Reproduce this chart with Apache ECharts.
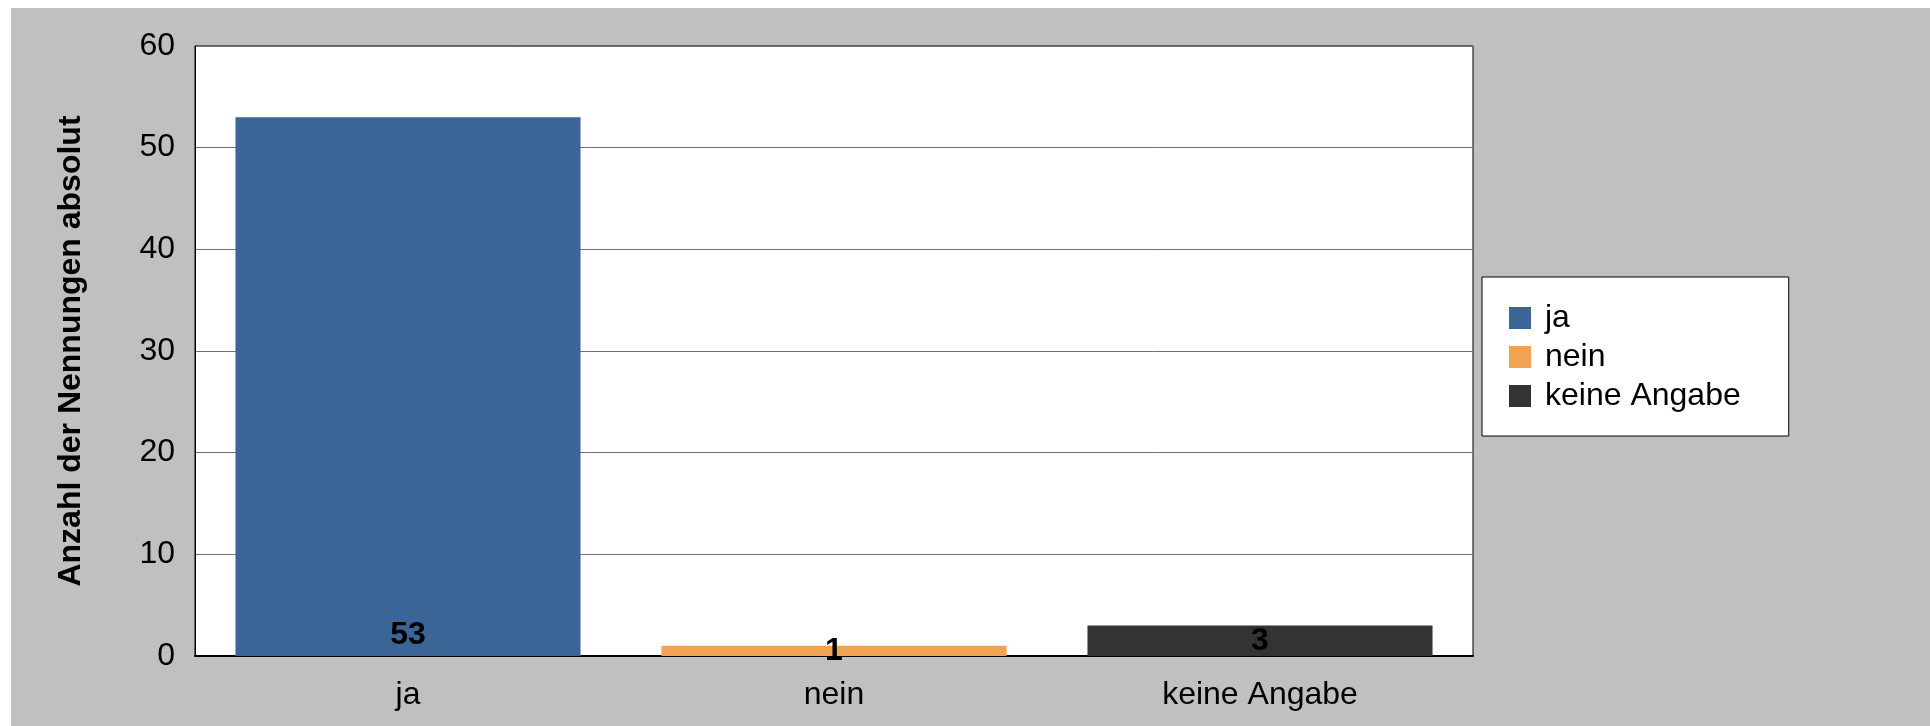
<!DOCTYPE html>
<html>
<head>
<meta charset="utf-8">
<script src="https://cdn.jsdelivr.net/npm/echarts@6/dist/echarts.min.js"></script>
<style>
  html, body { margin: 0; padding: 0; background: #fff; }
  #bg { position: absolute; left: 11px; top: 8px; width: 1919px; height: 718px; background: #c0c0c0; }
  #chart { position: absolute; left: 0; top: 0; width: 1930px; height: 726px; }
</style>
</head>
<body>
<div id="bg"></div>
<div id="chart"></div>
<script>
var categories = ['ja', 'nein', 'keine Angabe']
var counts = [53, 1, 3]
var colors = ['#3a6596', '#f0a352', '#333333']
var yTicks = [0, 10, 20, 30, 40, 50, 60]

var chart = echarts.init(document.getElementById('chart'))
var font = 'Liberation Sans, Arial, sans-serif'

// one series per category so each gets its own legend entry
var series = categories.map(function (name, i) {
  var data = categories.map(function (c, j) { return j === i ? counts[j] : '-' })
  return {
    name: name,
    type: 'bar',
    stack: 'all',
    barCategoryGap: '19%',
    itemStyle: { color: colors[i] },
    label: {
      show: true,
      position: counts[i] > 10 ? 'insideBottom' : 'inside',
      distance: 5,
      color: '#000',
      fontWeight: 'bold',
      fontSize: 32,
      fontFamily: font
    },
    data: data
  }
})

var option = {
  animation: false,
  grid: {
    left: 195,
    top: 46,
    width: 1278,
    height: 610,
    show: true,
    backgroundColor: '#fff',
    borderColor: '#000',
    borderWidth: 1
  },
  legend: {
    orient: 'vertical',
    left: 1482,
    top: 277,
    backgroundColor: '#fff',
    borderColor: '#000',
    borderWidth: 1,
    padding: [25, 48, 24, 27],
    itemWidth: 22,
    itemHeight: 22,
    itemGap: 7,
    icon: 'rect',
    textStyle: { fontSize: 32, fontFamily: font, color: '#000', padding: [0, 0, 0, 9] },
    data: categories
  },
  xAxis: {
    type: 'category',
    data: categories,
    axisLine: { lineStyle: { color: '#000', width: 2 } },
    axisTick: { show: false },
    axisLabel: { fontSize: 32, fontFamily: font, color: '#000', margin: 23 }
  },
  yAxis: {
    type: 'value',
    min: yTicks[0],
    max: yTicks[yTicks.length - 1],
    interval: 10,
    name: 'Anzahl der Nennungen absolut',
    nameLocation: 'middle',
    nameGap: 108,
    nameTextStyle: { fontSize: 32, fontWeight: 'bold', fontFamily: font, color: '#000' },
    axisLine: { show: true, lineStyle: { color: '#000', width: 1 } },
    axisTick: { show: false },
    axisLabel: { fontSize: 32, fontFamily: font, color: '#000', margin: 20 },
    splitLine: { lineStyle: { color: '#707070', width: 1 } }
  },
  series: series
}
chart.setOption(option)
</script>
</body>
</html>
